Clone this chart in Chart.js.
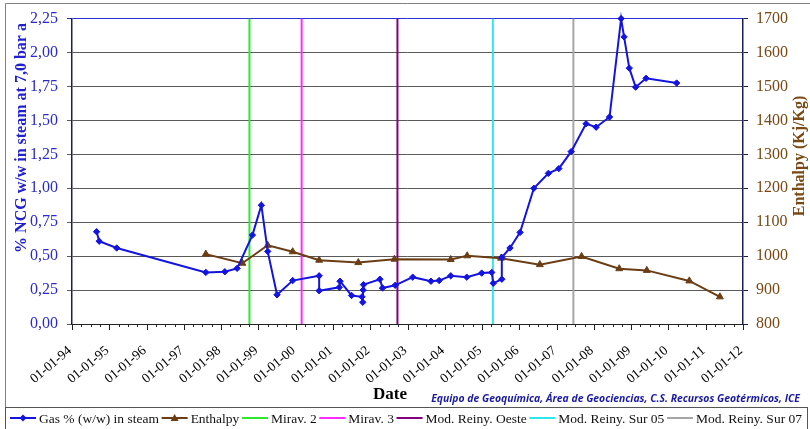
<!DOCTYPE html>
<html>
<head>
<meta charset="utf-8">
<script src="https://cdn.jsdelivr.net/npm/chart.js@4/dist/chart.umd.min.js"></script>
<style>
  html, body { margin: 0; padding: 0; background: #ffffff; }
  #wrap { width: 810px; height: 429px; position: relative; }
</style>
</head>
<body>
<div id="wrap"><canvas id="c" width="810" height="429"></canvas></div>
<script>
// Gas content of the steam (% NCG w/w at 7,0 bar a), dates as decimal years
const gasDates = [1994.66, 1994.73, 1995.20, 1997.59, 1998.10, 1998.43, 1998.84, 1999.08, 1999.25, 1999.50,
  1999.92, 2000.63, 2000.63, 2001.17, 2001.19, 2001.50, 2001.78, 2001.80, 2001.81, 2001.82,
  2002.26, 2002.33, 2002.67, 2003.14, 2003.63, 2003.85, 2004.16, 2004.59, 2004.99, 2005.26,
  2005.30, 2005.53, 2005.53, 2005.75, 2006.02, 2006.39, 2006.78, 2007.06, 2007.39, 2007.79,
  2008.06, 2008.42, 2008.73, 2008.81, 2008.95, 2009.12, 2009.40, 2010.22];
const gasValues = [0.68, 0.61, 0.56, 0.38, 0.385, 0.41, 0.655, 0.875, 0.535, 0.215,
  0.32, 0.355, 0.245, 0.27, 0.315, 0.21, 0.20, 0.16, 0.25, 0.29,
  0.33, 0.265, 0.285, 0.345, 0.315, 0.32, 0.355, 0.345, 0.375, 0.38,
  0.30, 0.33, 0.49, 0.56, 0.675, 1.00, 1.11, 1.145, 1.27, 1.475,
  1.45, 1.525, 2.25, 2.115, 1.885, 1.745, 1.81, 1.775];

// Discharge enthalpy (kJ/kg)
const enthalpyDates = [1997.59, 1998.57, 1999.25, 1999.92, 2000.63, 2001.68, 2002.65, 2004.16,
  2004.60, 2005.51, 2006.55, 2007.67, 2008.68, 2009.42, 2010.56, 2011.38];
const enthalpyValues = [1006, 979, 1032, 1013, 988, 981, 991, 990,
  1001, 994, 975, 999, 963, 958, 927, 880];

// Field events drawn as vertical markers
const eventNames = ['Mirav. 2', 'Mirav. 3', 'Mod. Reiny. Oeste', 'Mod. Reiny. Sur 05', 'Mod. Reiny. Sur 07'];
const eventDates = [1998.76, 2000.16, 2002.73, 2005.29, 2007.45];
const eventColors = ['#2ee82e', '#ff2cff', '#800080', '#2ce8ec', '#a6a6a6'];

// Axis ticks
const yearTicks = [1994, 1995, 1996, 1997, 1998, 1999, 2000, 2001, 2002, 2003,
  2004, 2005, 2006, 2007, 2008, 2009, 2010, 2011, 2012];
const yearLabels = ['01-01-94', '01-01-95', '01-01-96', '01-01-97', '01-01-98', '01-01-99', '01-01-00',
  '01-01-01', '01-01-02', '01-01-03', '01-01-04', '01-01-05', '01-01-06', '01-01-07', '01-01-08',
  '01-01-09', '01-01-10', '01-01-11', '01-01-12'];
const gasTicks = [0, 0.25, 0.5, 0.75, 1, 1.25, 1.5, 1.75, 2, 2.25];
const gasTickLabels = ['0,00', '0,25', '0,50', '0,75', '1,00', '1,25', '1,50', '1,75', '2,00', '2,25'];
const enthalpyTicks = [800, 900, 1000, 1100, 1200, 1300, 1400, 1500, 1600, 1700];

const BLUE = '#1414e0';
const BROWN = '#6b3d14';
const SERIF = '"Liberation Serif", "Times New Roman", serif';

const datasets = [
  {
    label: 'Gas % (w/w) in steam',
    data: gasDates.map((d, i) => ({ x: d, y: gasValues[i] })),
    yAxisID: 'y',
    borderColor: BLUE,
    backgroundColor: BLUE,
    borderWidth: 2,
    pointStyle: 'rectRot',
    pointRadius: 3.2,
    pointBorderWidth: 1,
    tension: 0,
    clip: 8
  },
  {
    label: 'Enthalpy',
    data: enthalpyDates.map((d, i) => ({ x: d, y: enthalpyValues[i] })),
    yAxisID: 'y1',
    borderColor: BROWN,
    backgroundColor: BROWN,
    borderWidth: 2,
    pointStyle: 'triangle',
    pointRadius: 4,
    pointBorderWidth: 1,
    tension: 0
  }
];
eventDates.forEach((d, i) => {
  datasets.push({
    label: eventNames[i],
    data: [{ x: d, y: 0 }, { x: d, y: 2.25 }],
    yAxisID: 'y',
    borderColor: eventColors[i],
    backgroundColor: eventColors[i],
    borderWidth: 2,
    pointRadius: 0
  });
});

// Frame, titles, date labels and ticks, credit line and legend box
const decorations = {
  id: 'decorations',
  beforeDraw(chart) {
    const c = chart.ctx;
    c.save();
    c.fillStyle = '#ffffff';
    c.fillRect(0, 0, chart.width, chart.height);
    c.restore();
  },
  afterDraw(chart) {
    const c = chart.ctx;
    const xs = chart.scales.x;
    const area = chart.chartArea;
    c.save();

    // quarterly minor ticks and yearly major ticks under the date axis
    c.strokeStyle = '#222222';
    c.lineWidth = 1;
    for (let q = 0; q <= (yearTicks.length - 1) * 4; q++) {
      const v = yearTicks[0] + q / 4;
      const px = Math.round(xs.getPixelForValue(v)) + 0.5;
      const len = q % 4 === 0 ? 6 : 3;
      c.beginPath();
      c.moveTo(px, area.bottom);
      c.lineTo(px, area.bottom + len);
      c.stroke();
    }

    // slanted date labels
    c.fillStyle = '#000000';
    c.font = '13.5px ' + SERIF;
    c.textAlign = 'right';
    c.textBaseline = 'middle';
    yearTicks.forEach((v, i) => {
      const px = xs.getPixelForValue(v);
      c.save();
      c.translate(px - 2, area.bottom + 25);
      c.rotate(-0.70);
      c.fillText(yearLabels[i], 0, 0);
      c.restore();
    });

    // axis titles
    c.font = 'bold 16px ' + SERIF;
    c.textAlign = 'center';
    c.textBaseline = 'middle';
    c.fillStyle = '#2020d0';
    c.save();
    c.translate(22, 138);
    c.rotate(-Math.PI / 2);
    c.fillText('% NCG w/w in steam at 7,0 bar a', 0, 0);
    c.restore();
    c.fillStyle = '#7a4812';
    c.save();
    c.translate(800, 156);
    c.rotate(-Math.PI / 2);
    c.fillText('Enthalpy (Kj/Kg)', 0, 0);
    c.restore();

    c.fillStyle = '#000000';
    c.font = 'bold 17px ' + SERIF;
    c.fillText('Date', 390, 395);

    c.fillStyle = '#1a1aa0';
    c.font = 'italic bold 10.4px "Open Sans", sans-serif';
    c.textAlign = 'right';
    c.fillText('Equipo de Geoquímica, Área de Geociencias, C.S. Recursos Geotérmicos, ICE', 800, 399);

    // outer frame
    c.strokeStyle = '#808080';
    c.lineWidth = 1;
    c.beginPath();
    c.moveTo(5.5, chart.height);
    c.lineTo(5.5, 3.5);
    c.lineTo(chart.width, 3.5);
    c.stroke();

    // legend box with evenly spread entries
    c.strokeStyle = '#555555';
    c.strokeRect(5.5, 407.5, 802, 22);
    const items = [
      { name: datasets[0].label, color: BLUE, marker: 'diamond' },
      { name: datasets[1].label, color: BROWN, marker: 'triangle' }
    ].concat(eventNames.map((n, i) => ({ name: n, color: eventColors[i] })));
    const ly = 418;
    const sample = 26, gapText = 3;
    c.textAlign = 'left';
    c.textBaseline = 'middle';
    c.font = '13.5px ' + SERIF;
    const widths = items.map(it => c.measureText(it.name).width);
    const startX = 10, endX = 802;
    const used = widths.reduce((a, w) => a + w + sample + gapText, 0);
    const gap = (endX - startX - used) / (items.length - 1);
    let x = startX;
    items.forEach((it, k) => {
      c.strokeStyle = it.color;
      c.fillStyle = it.color;
      c.lineWidth = 2;
      c.beginPath();
      c.moveTo(x, ly);
      c.lineTo(x + sample, ly);
      c.stroke();
      const mx = x + sample / 2;
      if (it.marker === 'diamond') {
        c.beginPath();
        c.moveTo(mx, ly - 3.5); c.lineTo(mx + 3.5, ly); c.lineTo(mx, ly + 3.5); c.lineTo(mx - 3.5, ly);
        c.closePath(); c.fill();
      } else if (it.marker === 'triangle') {
        c.beginPath();
        c.moveTo(mx, ly - 4); c.lineTo(mx + 4, ly + 3); c.lineTo(mx - 4, ly + 3);
        c.closePath(); c.fill();
      }
      c.fillStyle = '#111111';
      c.fillText(it.name, x + sample + gapText, ly + 1);
      x += sample + gapText + widths[k] + gap;
    });
    c.restore();
  }
};

new Chart(document.getElementById('c'), {
  type: 'line',
  data: { datasets },
  plugins: [decorations],
  options: {
    responsive: false,
    animation: false,
    devicePixelRatio: 1,
    layout: { padding: { top: 16, left: 0, right: 0, bottom: 0 } },
    plugins: { legend: { display: false }, tooltip: { enabled: false } },
    scales: {
      x: {
        type: 'linear',
        position: 'bottom',
        min: yearTicks[0],
        max: yearTicks[yearTicks.length - 1],
        afterBuildTicks: s => { s.ticks = yearTicks.map(v => ({ value: v })); },
        afterFit: s => { s.height = 105; },
        grid: { display: false },
        border: { display: true, color: '#222222', width: 1 },
        ticks: { display: false }
      },
      y: {
        position: 'left',
        min: 0,
        max: 2.25,
        afterBuildTicks: s => { s.ticks = gasTicks.map(v => ({ value: v })); },
        afterFit: s => { s.width = 72; },
        grid: {
          color: ctx => (ctx.tick && ctx.tick.value === 2.25 ? '#3030d8' : '#5a5a5a'),
          lineWidth: 1,
          tickLength: 5,
          drawTicks: true
        },
        border: { display: true, color: '#1c1c5a', width: 1.5 },
        ticks: {
          padding: 9,
          color: '#2a2ad0',
          font: { family: SERIF, size: 16 },
          callback: (v, i) => gasTickLabels[i]
        }
      },
      y1: {
        position: 'right',
        min: 800,
        max: 1700,
        afterBuildTicks: s => { s.ticks = enthalpyTicks.map(v => ({ value: v })); },
        afterFit: s => { s.width = 67; },
        grid: { drawOnChartArea: false, tickLength: 5, color: '#1c1c5a' },
        border: { display: true, color: '#1c1c5a', width: 1.5 },
        ticks: {
          padding: 8,
          color: '#7a4812',
          font: { family: SERIF, size: 16 },
          callback: (v, i) => String(enthalpyTicks[i])
        }
      }
    }
  }
});
</script>
</body>
</html>
